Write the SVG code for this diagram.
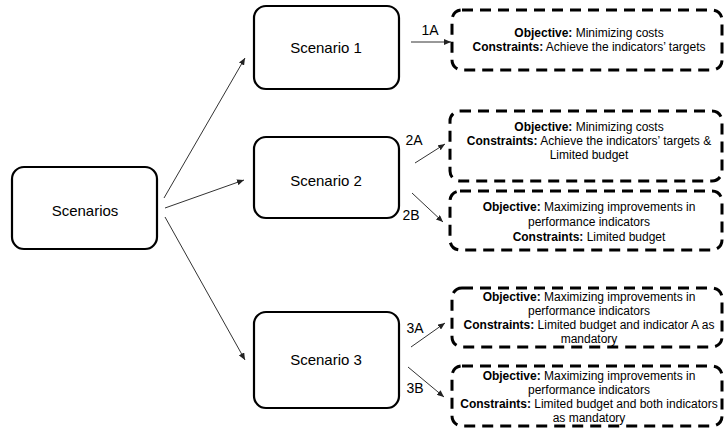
<svg xmlns="http://www.w3.org/2000/svg" width="726" height="428" viewBox="0 0 726 428">
<style>
  .solid { fill: #fff; stroke: #000; stroke-width: 2.2; }
  .dash { fill: #fff; stroke: #000; stroke-width: 3; stroke-dasharray: 11 7; }
  .big { font-family: "Liberation Sans", Arial, sans-serif; font-size: 15px; fill: #000; text-anchor: middle; }
  .lbl { font-family: "Liberation Sans", Arial, sans-serif; font-size: 14px; fill: #000; text-anchor: middle; }
  .small { font-family: "Liberation Sans", Arial, sans-serif; font-size: 12px; fill: #000; text-anchor: middle; }
  .b { font-weight: bold; }
  .conn { stroke: #333; stroke-width: 1; fill: none; marker-end: url(#ah); }
</style>
<defs>
  <marker id="ah" markerUnits="userSpaceOnUse" markerWidth="7" markerHeight="6" refX="7" refY="3" orient="auto">
    <path d="M0,0 L7,3 L0,6 Z" fill="#222"/>
  </marker>
</defs>
<rect width="726" height="428" fill="#fff"/>

<g id="scenarios">
  <rect class="solid" x="12" y="167" width="145" height="82" rx="12"/>
  <text class="big" x="85" y="216">Scenarios</text>
</g>
<g id="scenario1">
  <rect class="solid" x="254" y="6" width="145" height="83" rx="12"/>
  <text class="big" x="326" y="53">Scenario 1</text>
</g>
<g id="scenario2">
  <rect class="solid" x="254" y="137" width="145" height="81" rx="12"/>
  <text class="big" x="326" y="186">Scenario 2</text>
</g>
<g id="scenario3">
  <rect class="solid" x="254" y="312" width="145" height="96" rx="12"/>
  <text class="big" x="326" y="365">Scenario 3</text>
</g>

<g id="box1A">
  <rect class="dash" x="452" y="10" width="270" height="60" rx="10"/>
  <text class="small" x="589" y="37"><tspan class="b">Objective:</tspan> Minimizing costs</text>
  <text class="small" x="589" y="51"><tspan class="b">Constraints:</tspan> Achieve the indicators’ targets</text>
</g>
<g id="box2A">
  <rect class="dash" x="450" y="111" width="272" height="70" rx="10"/>
  <text class="small" x="589" y="131"><tspan class="b">Objective:</tspan> Minimizing costs</text>
  <text class="small" x="589" y="145"><tspan class="b">Constraints:</tspan> Achieve the indicators’ targets &amp;</text>
  <text class="small" x="589" y="159">Limited budget</text>
</g>
<g id="box2B">
  <rect class="dash" x="450" y="191" width="272" height="59" rx="10"/>
  <text class="small" x="589" y="211"><tspan class="b">Objective:</tspan> Maximizing improvements in</text>
  <text class="small" x="589" y="226">performance indicators</text>
  <text class="small" x="589" y="241"><tspan class="b">Constraints:</tspan> Limited budget</text>
</g>
<g id="box3A">
  <rect class="dash" x="452" y="288" width="270" height="59" rx="10"/>
  <text class="small" x="589" y="301"><tspan class="b">Objective:</tspan> Maximizing improvements in</text>
  <text class="small" x="589" y="315">performance indicators</text>
  <text class="small" x="589" y="329"><tspan class="b">Constraints:</tspan> Limited budget and indicator A as</text>
  <text class="small" x="589" y="343">mandatory</text>
</g>
<g id="box3B">
  <rect class="dash" x="452" y="366" width="270" height="60" rx="10"/>
  <text class="small" x="589" y="380"><tspan class="b">Objective:</tspan> Maximizing improvements in</text>
  <text class="small" x="589" y="394">performance indicators</text>
  <text class="small" x="589" y="408"><tspan class="b">Constraints:</tspan> Limited budget and both indicators</text>
  <text class="small" x="589" y="422">as mandatory</text>
</g>

<g id="connectors">
  <line class="conn" x1="164" y1="198" x2="245" y2="58"/>
  <line class="conn" x1="165" y1="208" x2="244" y2="180"/>
  <line class="conn" x1="165" y1="217" x2="245" y2="360"/>
  <line class="conn" x1="411" y1="42" x2="451" y2="42"/>
  <line class="conn" x1="415" y1="163" x2="445" y2="144"/>
  <line class="conn" x1="412" y1="193" x2="443" y2="222"/>
  <line class="conn" x1="411" y1="347" x2="445" y2="323"/>
  <line class="conn" x1="408" y1="367" x2="444" y2="397"/>
  <text class="lbl" x="430" y="35">1A</text>
  <text class="lbl" x="414" y="145">2A</text>
  <text class="lbl" x="411" y="220">2B</text>
  <text class="lbl" x="415" y="333">3A</text>
  <text class="lbl" x="415" y="393">3B</text>
</g>
</svg>
